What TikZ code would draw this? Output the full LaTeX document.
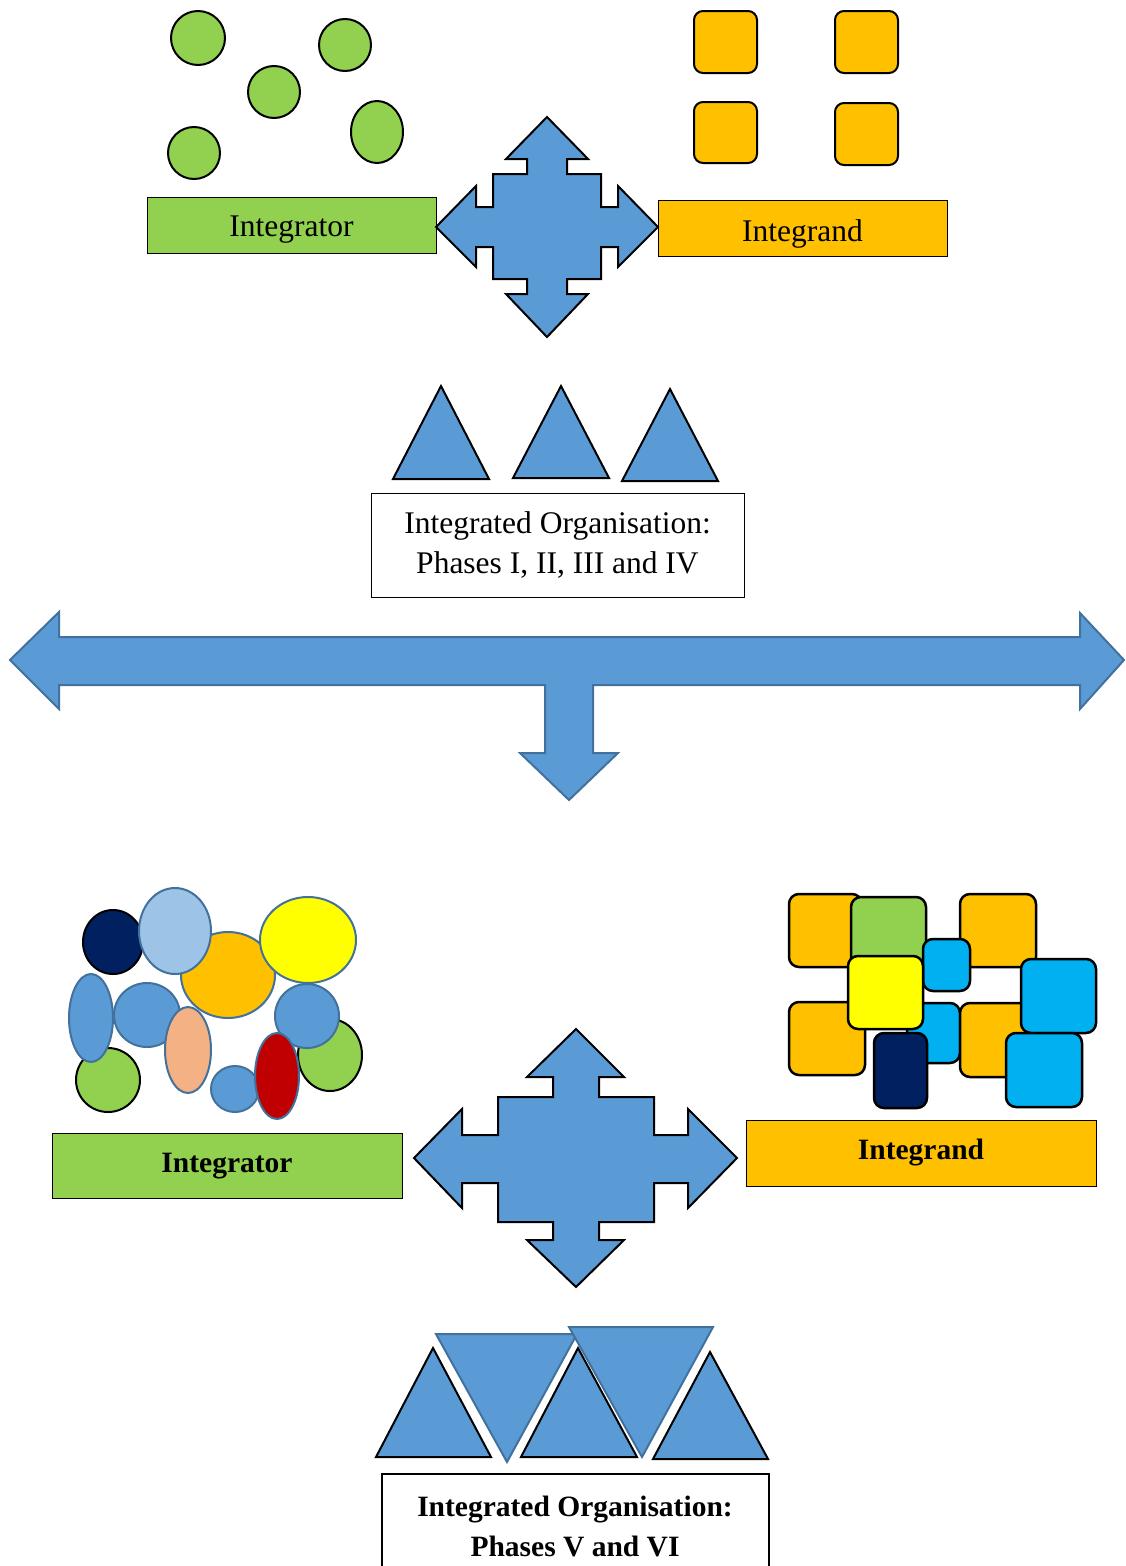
\documentclass[tikz,border=0pt]{standalone}
\usepackage{fontspec}
\setmainfont{Liberation Serif}
\definecolor{cgreen}{HTML}{92D050}
\definecolor{corange}{HTML}{FFC000}
\definecolor{cblue}{HTML}{5B9BD5}
\definecolor{cblueline}{HTML}{41719C}
\definecolor{clightblue}{HTML}{9DC3E6}
\definecolor{cnavy}{HTML}{002060}
\definecolor{cyellow}{HTML}{FFFF00}
\definecolor{cpeach}{HTML}{F4B183}
\definecolor{cred}{HTML}{C00000}
\definecolor{ccyan}{HTML}{00B0F0}
\begin{document}
\begin{tikzpicture}[x=1pt,y=-1pt,
  quad/.style={fill=cblue,draw=black,line width=2pt,line join=miter},
  bigarrow/.style={fill=cblue,draw=cblueline,line width=2pt},
  tri/.style={fill=cblue,draw=black,line width=2pt,line join=miter},
  itri/.style={fill=cblue,draw=cblueline,line width=2pt,line join=miter},
  gdot/.style={fill=cgreen,draw=black,line width=2pt},
  bell/.style={draw=cblueline,line width=2pt},
  bdot/.style={draw=black,line width=2pt},
  sq/.style={fill=corange,draw=black,line width=2pt,rounded corners=9pt},
  rsq/.style={draw=black,line width=2.5pt,rounded corners=10pt},
  regtext/.style={font=\fontsize{31.5}{40}\selectfont},
  boldtext/.style={font=\fontsize{29.5}{40}\selectfont\bfseries},
  label/.style={draw=black,line width=0.8pt,inner sep=0pt}]
\useasboundingbox (0,0) rectangle (1125,1566);
\fill[white] (0,0) rectangle (1125,1566);

% ---------- top: integrator circles ----------
\draw[gdot] (198,38) circle [radius=27pt];
\draw[gdot] (345,45) circle [radius=26pt];
\draw[gdot] (274,92) circle [radius=26pt];
\draw[gdot] (194,153) circle [radius=26pt];
\draw[gdot] (377,132) ellipse [x radius=26pt,y radius=31pt];

% ---------- top: integrand squares ----------
\draw[sq] (694,11) rectangle (757,73);
\draw[sq] (835,11) rectangle (898,73);
\draw[sq] (694,102) rectangle (757,163);
\draw[sq] (835,103) rectangle (898,165);

% ---------- top labels ----------
\node[label,fill=cgreen,minimum width=289pt,minimum height=56pt] (integratorA) at (291.5,225) {};
\node[regtext] (integratorAtext) at (291.5,230) {Integrator};
\node[label,fill=corange,minimum width=289pt,minimum height=56pt] (integrandA) at (802.5,228) {};
\node[regtext] (integrandAtext) at (802.5,234) {Integrand};

% ---------- top quad arrow ----------
\draw[quad] (547,117) -- (588,159) -- (567,159) -- (567,174) -- (601,174) -- (601,207) -- (618,207) -- (618,186) -- (658,227) -- (618,267) -- (618,247) -- (601,247) -- (601,279) -- (567,279) -- (567,294) -- (588,294) -- (547,337) -- (506,294) -- (527,294) -- (527,279) -- (493,279) -- (493,247) -- (476,247) -- (476,267) -- (436,227) -- (476,186) -- (476,207) -- (493,207) -- (493,174) -- (527,174) -- (527,159) -- (506,159) -- cycle;

% ---------- middle triangles ----------
\draw[tri] (393,479) -- (441,386) -- (489,479) -- cycle;
\draw[tri] (513,478) -- (561,386) -- (609,478) -- cycle;
\draw[tri] (622,481) -- (670,389) -- (718,481) -- cycle;

\node[label,minimum width=373pt,minimum height=104pt,regtext,align=center] (phasesA) at (557.5,545) {Integrated Organisation:\\Phases I, II, III and IV};

% ---------- big arrow ----------
\draw[bigarrow] (10,660) -- (59,612) -- (59,637) -- (1080,637) -- (1080,613) -- (1124,660) -- (1080,709) -- (1080,685) -- (593,685) -- (593,753) -- (618,753) -- (569,800) -- (520,753) -- (545,753) -- (545,685) -- (59,685) -- (59,709) -- cycle;

% ---------- bottom: integrator ellipses ----------
\draw[bdot,fill=cnavy] (113,942) ellipse [x radius=30pt,y radius=32pt];
\draw[bell,fill=corange] (228,975) ellipse [x radius=47pt,y radius=43pt];
\draw[bell,fill=clightblue] (175,931) ellipse [x radius=36pt,y radius=43pt];
\draw[bell,fill=cyellow] (308,940) ellipse [x radius=48pt,y radius=43pt];
\draw[gdot] (108,1080) circle [radius=32pt];
\draw[bell,fill=cblue] (91,1018) ellipse [x radius=22pt,y radius=44pt];
\draw[bell,fill=cblue] (147,1015) ellipse [x radius=33pt,y radius=32pt];
\draw[bell,fill=cpeach] (188,1050) ellipse [x radius=23pt,y radius=43pt];
\draw[gdot] (330,1055) ellipse [x radius=32pt,y radius=36pt];
\draw[bell,fill=cblue] (307,1016) circle [radius=32pt];
\draw[bell,fill=cblue] (235,1089) ellipse [x radius=24pt,y radius=23pt];
\draw[bell,fill=cred] (277,1076) ellipse [x radius=22pt,y radius=43pt];

% ---------- bottom: integrand squares ----------
\draw[rsq,fill=corange] (789,894) rectangle (862,967);
\draw[rsq,fill=cgreen] (851,897) rectangle (926,972);
\draw[rsq,fill=corange] (960,894) rectangle (1036,967);
\draw[rsq,fill=ccyan] (923,939) rectangle (970,991);
\draw[rsq,fill=corange] (789,1002) rectangle (865,1075);
\draw[rsq,fill=ccyan] (907,1003) rectangle (960,1063);
\draw[rsq,fill=cyellow] (848,956) rectangle (923,1029);
\draw[rsq,fill=cnavy] (874,1033) rectangle (927,1108);
\draw[rsq,fill=corange] (960,1003) rectangle (1036,1077);
\draw[rsq,fill=ccyan] (1021,959) rectangle (1096,1033);
\draw[rsq,fill=ccyan] (1006,1033) rectangle (1082,1107);

% ---------- bottom labels ----------
\node[label,fill=cgreen,minimum width=350pt,minimum height=65pt] (integratorB) at (227,1165.5) {};
\node[boldtext] (integratorBtext) at (227,1166) {Integrator};
\node[label,fill=corange,minimum width=350pt,minimum height=66pt] (integrandB) at (921,1153) {};
\node[boldtext] (integrandBtext) at (921,1153) {Integrand};

% ---------- bottom quad arrow ----------
\draw[quad] (576,1029) -- (624,1077) -- (599,1077) -- (599,1097) -- (654,1097) -- (654,1135) -- (688,1135) -- (688,1109) -- (737,1158) -- (688,1208) -- (688,1183) -- (654,1183) -- (654,1222) -- (599,1222) -- (599,1240) -- (624,1240) -- (576,1287) -- (527,1240) -- (553,1240) -- (553,1222) -- (498,1222) -- (498,1183) -- (462,1183) -- (462,1208) -- (414,1158) -- (462,1109) -- (462,1135) -- (498,1135) -- (498,1097) -- (553,1097) -- (553,1077) -- (527,1077) -- cycle;

% ---------- bottom triangles ----------
\draw[tri] (376,1457) -- (433,1348) -- (491,1457) -- cycle;
\draw[itri] (436,1334) -- (577,1334) -- (507,1462) -- cycle;
\draw[tri] (521,1457) -- (578,1348) -- (637,1457) -- cycle;
\draw[itri] (569,1327) -- (713,1327) -- (642,1457) -- cycle;
\draw[tri] (653,1459) -- (710,1352) -- (768,1459) -- cycle;

\node[draw=black,line width=2pt,inner sep=0pt,minimum width=387pt,minimum height=100pt] (phasesBox) at (575,1524) {};
\node[boldtext,align=center] (phasesB) at (575,1526) {Integrated Organisation:\\Phases V and VI};
\end{tikzpicture}
\end{document}
